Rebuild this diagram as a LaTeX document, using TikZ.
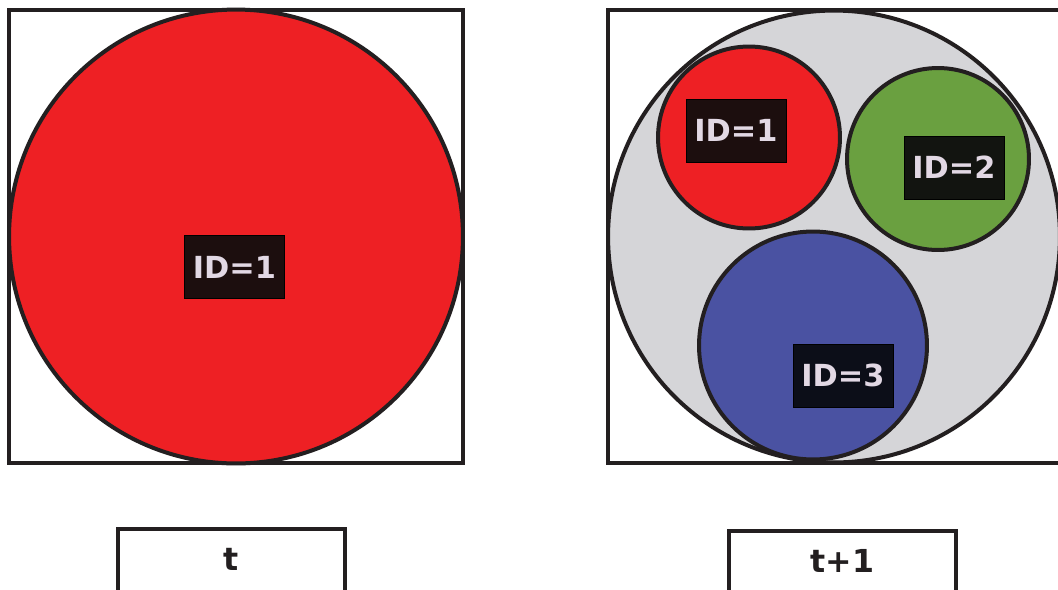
\documentclass[tikz,border=0pt]{standalone}
\usepackage{fontspec}
\setsansfont{DejaVu Sans}
\usepackage{xcolor}
\usetikzlibrary{positioning}
\definecolor{ink}{RGB}{35, 31, 32}
\definecolor{blobred}{RGB}{238, 32, 36}
\definecolor{blobgreen}{RGB}{106, 160, 64}
\definecolor{blobblue}{RGB}{74, 82, 162}
\definecolor{cloud}{RGB}{213, 213, 216}
\definecolor{tagtext}{RGB}{226, 216, 228}
\definecolor{tagred}{RGB}{28, 14, 14}
\definecolor{taggreen}{RGB}{18, 20, 16}
\definecolor{tagblue}{RGB}{12, 14, 24}

\begin{document}
\begin{tikzpicture}[
    x={(0.02cm,0)}, y={(0,-0.02cm)},
    frame/.style={
        draw=ink,
        line width=0.08cm
    },
    blob/.style={
        circle,
        draw=ink,
        line width=0.08cm,
        inner sep=0pt,
        fill=#1
    },
    blob/.default=cloud,
    idtag/.style={
        draw=black,
        fill=#1,
        line width=0.5pt,
        minimum width=2cm,
        minimum height=1.26cm,
        inner sep=0pt,
        text=tagtext,
        font=\sffamily\bfseries\fontsize{17.3}{19}\selectfont
    },
    timebox/.style={
        draw=ink,
        line width=0.08cm,
        anchor=north,
        minimum width=4.54cm,
        inner xsep=0pt, inner ysep=0pt,
        text height=0.82cm,
        text depth=1cm,
        text=ink,
        font=\sffamily\bfseries\fontsize{18}{20}\selectfont
    }
]
\clip (0,0) rectangle (1058,589);
\fill[white] (0,0) rectangle (1058,589);

% === t: single object ===
\draw[frame] (9,10) rectangle (463,463);
\node[blob=blobred, minimum size=9.08cm] (big) at (236,236.5) {};
\node[idtag=tagred] (tagA) at (234.5,267) {ID=1};

% === t+1: split into three ===
\draw[frame] (608,10) rectangle (1100,463);
\node[blob, minimum size=9.04cm] (whole) at (834,236.5) {};
\node[blob=blobred, minimum size=3.64cm] (partA) at (749,137.5) {};
\node[blob=blobgreen, minimum size=3.64cm] (partB) at (938,159) {};
\node[blob=blobblue, minimum size=4.56cm] (partC) at (813,345.5) {};
\node[idtag=tagred] (tagB) at (736,130.5) {ID=1};
\node[idtag=taggreen] (tagC) at (954,167.5) {ID=2};
\node[idtag=tagblue] (tagD) at (843,375.5) {ID=3};

% === time labels ===
\node[timebox] (tnow) at (231.5,527) {t};
\node[timebox] (tnext) at (842.5,529) {t+1};

\end{tikzpicture}
\end{document}
